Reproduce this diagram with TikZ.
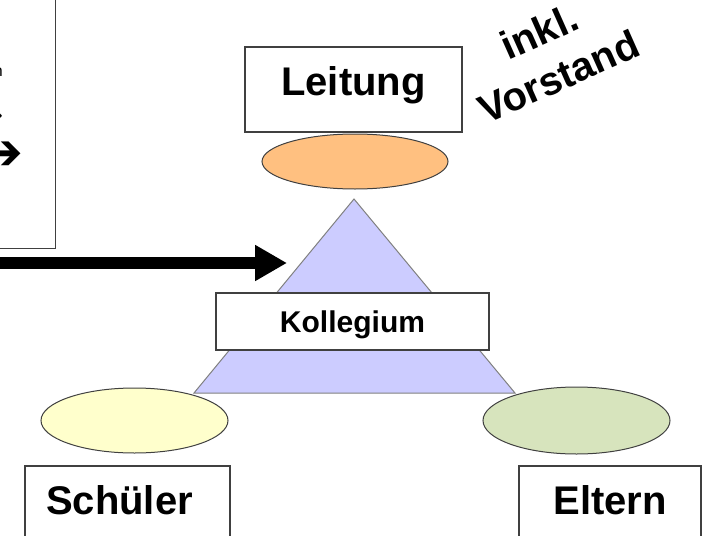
\documentclass[tikz,border=0pt]{standalone}
\usepackage{fontspec}
\setmainfont{Liberation Sans}
\newfontfamily\symbfont{DejaVu Sans}
\usepackage{xcolor}
\usepackage{tikz}
\usetikzlibrary{arrows.meta,positioning,shapes.geometric}
\definecolor{leitungorange}{RGB}{255,192,128}
\definecolor{kollegiumblau}{RGB}{204,204,255}
\definecolor{schuelergelb}{RGB}{255,255,204}
\definecolor{elterngruen}{RGB}{215,228,189}
\definecolor{rahmengrau}{RGB}{64,64,64}
\tikzset{
    namebox/.style={
        rectangle,
        draw=rahmengrau, line width=1.5pt,
        fill=white,
        inner sep=0pt,
        minimum height=85pt,
        text height=29pt, text depth=18pt,
        font={\fontsize{40pt}{48pt}\selectfont\bfseries}
    },
    kollegbox/.style={
        rectangle,
        draw=rahmengrau, line width=1.5pt,
        fill=white,
        inner sep=0pt,
        minimum width=273pt,
        minimum height=57pt,
        text height=22pt, text depth=0pt,
        font={\fontsize{30pt}{36pt}\selectfont\bfseries}
    },
    gruppe/.style={
        ellipse,
        draw=rahmengrau, line width=1pt,
        inner sep=0pt,
        minimum width=187pt
    },
    bigarrow/.style={-{Triangle[length=32pt,width=34pt]}, line width=12pt},
    fragment/.style={inner sep=0pt},
}

\begin{document}
\begin{tikzpicture}
[
    x=1pt, y=-1pt,
]
\useasboundingbox (0,0) rectangle (705,536);
\clip (0,0) rectangle (705,536);
% box on the left, only its corner is visible
\node(liste) at (56,249)[draw=rahmengrau, line width=1.5pt, minimum width=90pt, minimum height=280pt, anchor=south east, inner sep=0pt]{};
\node(zeile1) at (3,76)[fragment, anchor=base east, font={\fontsize{16pt}{19pt}\selectfont}]{n};
\node(zeile2) at (3,117)[fragment, anchor=east, font={\symbfont\fontsize{20pt}{24pt}\selectfont}]{→};
\node(zeile3) at (24,156)[fragment, anchor=east, font={\symbfont\fontsize{50pt}{56pt}\selectfont}]{➔};
% pyramid
\coordinate(spitze) at (354,199);
\coordinate(linksunten) at (194,393);
\coordinate(rechtsunten) at (515,393);
\draw[draw=gray, line width=1pt, fill=kollegiumblau] (spitze) -- (linksunten) -- (rechtsunten) -- cycle;
\node(kollegium) at (352.5,321.5)[kollegbox]{Kollegium};
\node(leitungoval) at (355,161.5)[gruppe, fill=leitungorange, minimum width=186pt, minimum height=55pt]{};
\node(schueleroval) at (134.5,420.5)[gruppe, fill=schuelergelb, minimum height=65pt]{};
\node(elternoval) at (576.5,420.5)[gruppe, fill=elterngruen, minimum height=67pt]{};
\node(leitung) at (353.5,89.5)[namebox, minimum width=217pt]{Leitung};
\node(schueler) at (127.5,508.5)[namebox, minimum width=205pt]{\hspace*{-16pt}Schüler};
\node(eltern) at (610,508.5)[namebox, minimum width=182pt]{Eltern};
\node(vorstand) at (549,54)[rotate=24, align=center, font={\fontsize{40pt}{49pt}\selectfont\bfseries}]{inkl.\\Vorstand};
% arrow into the pyramid
\coordinate(pfeilstart) at (-5,263);
\coordinate(pfeilziel) at (287,263);
\draw[bigarrow] (pfeilstart) -- (pfeilziel);
\end{tikzpicture}
\end{document}
